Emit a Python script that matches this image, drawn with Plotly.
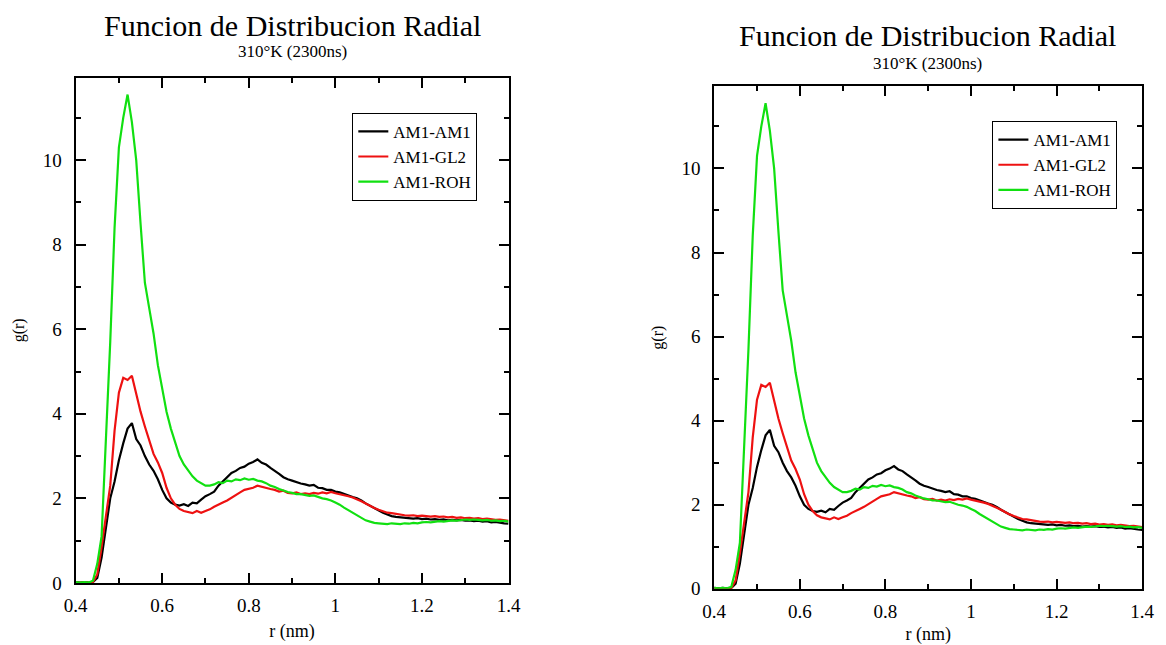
import plotly.graph_objects as go

r = [round(0.40 + 0.01 * i, 2) for i in range(101)]

am1_am1 = [0.02, 0.01, 0.02, 0.01, 0.02, 0.12, 0.6, 1.3, 2.0, 2.4,
           2.9, 3.3, 3.65, 3.78, 3.4, 3.25, 3.0, 2.8, 2.65, 2.45,
           2.2, 2.0, 1.9, 1.85, 1.83, 1.86, 1.82, 1.9, 1.88, 1.97,
           2.05, 2.1, 2.16, 2.3, 2.4, 2.5, 2.6, 2.65, 2.72, 2.75,
           2.82, 2.86, 2.92, 2.84, 2.8, 2.72, 2.66, 2.58, 2.5, 2.45,
           2.42, 2.38, 2.35, 2.33, 2.3, 2.32, 2.25, 2.24, 2.2, 2.2,
           2.16, 2.14, 2.1, 2.06, 2.03, 2.0, 1.95, 1.88, 1.82, 1.77,
           1.72, 1.66, 1.62, 1.58, 1.56, 1.55, 1.54, 1.53, 1.52, 1.53,
           1.51, 1.52, 1.5, 1.51, 1.49, 1.5, 1.48, 1.49, 1.48, 1.49,
           1.47, 1.48, 1.46, 1.47, 1.45, 1.46, 1.43, 1.44, 1.42, 1.41,
           1.4]

am1_gl2 = [0.01, 0.0, 0.01, 0.0, 0.02, 0.2, 0.85, 1.6, 2.3, 3.6,
           4.5, 4.85, 4.8, 4.9, 4.45, 4.05, 3.7, 3.4, 3.05, 2.85,
           2.6, 2.25, 2.0, 1.85, 1.75, 1.7, 1.68, 1.65, 1.7, 1.66,
           1.7, 1.74, 1.8, 1.86, 1.9, 1.95, 2.02, 2.08, 2.14, 2.2,
           2.23, 2.25, 2.3, 2.27, 2.25, 2.22, 2.2, 2.16, 2.18, 2.13,
           2.12, 2.14, 2.1, 2.12, 2.1, 2.13, 2.11, 2.14, 2.12, 2.15,
           2.12, 2.1, 2.07, 2.05, 2.02, 1.98, 1.93, 1.88, 1.82, 1.77,
           1.73, 1.69, 1.66, 1.65, 1.63, 1.61, 1.6, 1.59, 1.6, 1.58,
           1.59, 1.58, 1.57, 1.58, 1.56, 1.57, 1.55, 1.56, 1.54, 1.55,
           1.53, 1.54, 1.52, 1.53, 1.51, 1.52, 1.5, 1.49, 1.5, 1.48,
           1.47]

am1_roh = [0.02, 0.01, 0.02, 0.01, 0.05, 0.45, 1.1, 3.3, 5.7, 8.4,
           10.3, 11.0, 11.55, 10.9, 10.0, 8.5, 7.1, 6.5, 5.9, 5.15,
           4.6, 4.05, 3.65, 3.3, 3.0, 2.8, 2.65, 2.52, 2.42, 2.35,
           2.3, 2.3, 2.33, 2.38, 2.36, 2.42, 2.4, 2.45, 2.43, 2.47,
           2.44, 2.46, 2.42, 2.4, 2.36, 2.3, 2.27, 2.22, 2.18, 2.15,
           2.13, 2.1, 2.1, 2.08, 2.06, 2.07, 2.03, 2.0, 1.98, 1.95,
           1.9, 1.85, 1.78, 1.72, 1.66, 1.6, 1.53, 1.48, 1.45, 1.42,
           1.41, 1.4, 1.39, 1.41, 1.4, 1.39, 1.41, 1.4, 1.42, 1.41,
           1.43, 1.44, 1.43, 1.45, 1.46, 1.45, 1.47, 1.48, 1.47, 1.49,
           1.5, 1.49, 1.5, 1.49, 1.48, 1.49, 1.47, 1.48, 1.46, 1.47,
           1.45]

series_names = ["AM1-AM1", "AM1-GL2", "AM1-ROH"]
series_values = [am1_am1, am1_gl2, am1_roh]
colors = ["#000000", "#ee1111", "#11e011"]

title_text = "Funcion de Distribucion Radial"
subtitle_text = "310°K (2300ns)"
x_label = "r (nm)"
y_label = "g(r)"

FONT = "Liberation Serif"

fig = go.Figure()
for panel, (xa, ya, lg) in enumerate([("x", "y", "legend"), ("x2", "y2", "legend2")]):
    for name, vals, col in zip(series_names, series_values, colors):
        fig.add_trace(go.Scatter(
            x=r, y=vals, mode="lines", name=name,
            line=dict(color=col, width=2.2),
            xaxis=xa, yaxis=ya, legend=lg,
        ))

def xaxis(domain, anchor):
    return dict(domain=domain, anchor=anchor, range=[0.4, 1.4],
                tickmode="array", tickvals=[0.4, 0.6, 0.8, 1.0, 1.2, 1.4],
                ticktext=["0.4", "0.6", "0.8", "1", "1.2", "1.4"],
                ticks="inside", ticklen=10, tickwidth=1.5, tickcolor="black",
                minor=dict(ticks="inside", ticklen=5, dtick=0.1, tick0=0.4,
                           tickcolor="black", tickwidth=1.5),
                showline=True, linecolor="black", linewidth=2, mirror="ticks",
                showgrid=False, zeroline=False, ticklabelstandoff=4,
                tickfont=dict(family=FONT, size=19, color="black"),
                title=dict(text=x_label, font=dict(family=FONT, size=18, color="black"),
                           standoff=10))

def yaxis(domain, anchor):
    return dict(domain=domain, anchor=anchor, range=[0, 11.95],
                tickmode="array", tickvals=[0, 2, 4, 6, 8, 10],
                ticks="inside", ticklen=10, tickwidth=1.5, tickcolor="black",
                minor=dict(ticks="inside", ticklen=5, dtick=1, tick0=0,
                           tickcolor="black", tickwidth=1.5),
                showline=True, linecolor="black", linewidth=2, mirror="ticks",
                showgrid=False, zeroline=False, ticklabelstandoff=8,
                tickfont=dict(family=FONT, size=19, color="black"),
                title=dict(text=y_label, font=dict(family=FONT, size=16, color="black"),
                           standoff=14))

legend_common = dict(bgcolor="white", bordercolor="black", borderwidth=1,
                     font=dict(family=FONT, size=17, color="black"),
                     xanchor="left", yanchor="top", tracegroupgap=0,
                     itemwidth=30)

fig.update_layout(
    width=1166, height=645,
    margin=dict(l=0, r=0, t=0, b=0),
    paper_bgcolor="white", plot_bgcolor="white",
    font=dict(family=FONT, color="black"),
    xaxis=xaxis([0.0557, 0.4348], "y"),
    yaxis=yaxis([0.0806, 0.8775], "x"),
    xaxis2=xaxis([0.6149, 0.9897], "y2"),
    yaxis2=yaxis([0.0713, 0.8636], "x2"),
    legend=dict(x=0.298, y=0.822, **legend_common),
    legend2=dict(x=0.8585, y=0.809, **legend_common),
    showlegend=True,
    annotations=[
        dict(text=title_text, x=0.2455, y=0.960, xref="paper", yref="paper",
             showarrow=False, font=dict(family=FONT, size=30, color="black"),
             xanchor="center", yanchor="middle"),
        dict(text=subtitle_text, x=0.2455, y=0.918, xref="paper", yref="paper",
             showarrow=False, font=dict(family=FONT, size=17, color="black"),
             xanchor="center", yanchor="middle"),
        dict(text=title_text, x=0.802, y=0.944, xref="paper", yref="paper",
             showarrow=False, font=dict(family=FONT, size=30, color="black"),
             xanchor="center", yanchor="middle"),
        dict(text=subtitle_text, x=0.802, y=0.900, xref="paper", yref="paper",
             showarrow=False, font=dict(family=FONT, size=17, color="black"),
             xanchor="center", yanchor="middle"),
    ],
)

fig.write_html("out.html")
